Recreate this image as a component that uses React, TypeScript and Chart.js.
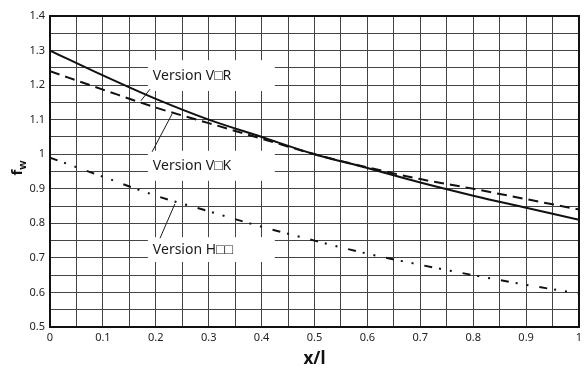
import React, { useEffect, useRef } from "react";
import { Chart, registerables } from "chart.js";

Chart.register(...registerables);

const xValues = [0, 0.1, 0.2, 0.3, 0.4, 0.5, 0.6, 0.7, 0.8, 0.9, 1.0];
const versionVR = [1.3, 1.228, 1.16, 1.1, 1.05, 1.0, 0.96, 0.918, 0.88, 0.845, 0.81];
const versionVK = [1.24, 1.187, 1.135, 1.09, 1.045, 1.0, 0.962, 0.928, 0.9, 0.87, 0.84];
const versionH = [0.99, 0.935, 0.88, 0.835, 0.79, 0.75, 0.712, 0.68, 0.65, 0.622, 0.597];

const seriesNames = ["Version V\u25A1R", "Version V\u25A1K", "Version H\u25A1\u25A1"];
const xTitle = "x/l";
const yTitleMain = "f";
const yTitleSub = "w";

const FONT = "'Noto Sans', 'Open Sans', sans-serif";

// label annotations in data coordinates
const labelDefs = [
  { text: seriesNames[0], x0: 0.185, x1: 0.425, yTop: 1.272, yBot: 1.183, yText: 1.226, lead: [0.189, 1.188, 0.172, 1.155] },
  { text: seriesNames[1], x0: 0.185, x1: 0.425, yTop: 1.01, yBot: 0.923, yText: 0.966, lead: [0.193, 1.007, 0.231, 1.117] },
  { text: seriesNames[2], x0: 0.185, x1: 0.425, yTop: 0.76, yBot: 0.688, yText: 0.724, lead: [0.208, 0.757, 0.236, 0.856] },
];

const toPts = (ys: number[]) => xValues.map((x, i) => ({ x, y: ys[i] }));

const fmt = (v: number) => {
  const r = Math.round(v * 100);
  if (r % 10 !== 0) return "";
  return String(r / 100);
};

const overlayPlugin = {
  id: "overlay",
  afterDatasetsDraw(chart: any) {
    const { ctx, chartArea, scales } = chart;
    const xs = scales.x;
    const ys = scales.y;
    ctx.save();
    labelDefs.forEach((d) => {
      const l = xs.getPixelForValue(d.x0);
      const r = xs.getPixelForValue(d.x1);
      const t = ys.getPixelForValue(d.yTop);
      const b = ys.getPixelForValue(d.yBot);
      ctx.fillStyle = "#ffffff";
      ctx.fillRect(l, t, r - l, b - t);
      ctx.fillStyle = "#1a1a1a";
      ctx.font = `14px ${FONT}`;
      ctx.textAlign = "left";
      ctx.textBaseline = "middle";
      ctx.fillText(d.text, l + 5, ys.getPixelForValue(d.yText));
      ctx.strokeStyle = "#1a1a1a";
      ctx.lineWidth = 1;
      ctx.beginPath();
      ctx.moveTo(xs.getPixelForValue(d.lead[0]), ys.getPixelForValue(d.lead[1]));
      ctx.lineTo(xs.getPixelForValue(d.lead[2]), ys.getPixelForValue(d.lead[3]));
      ctx.stroke();
    });
    ctx.strokeStyle = "#111";
    ctx.lineWidth = 2;
    ctx.strokeRect(chartArea.left, chartArea.top, chartArea.right - chartArea.left, chartArea.bottom - chartArea.top);
    ctx.fillStyle = "#111";
    ctx.font = `bold 17px ${FONT}`;
    ctx.textAlign = "center";
    ctx.textBaseline = "middle";
    ctx.fillText(xTitle, (chartArea.left + chartArea.right) / 2, 359);
    ctx.translate(17, 168);
    ctx.rotate(-Math.PI / 2);
    ctx.textAlign = "left";
    ctx.textBaseline = "alphabetic";
    ctx.font = `bold 11px ${FONT}`;
    const subW = ctx.measureText(yTitleSub).width;
    ctx.font = `bold 15px ${FONT}`;
    const fw = ctx.measureText(yTitleMain).width;
    const total = fw + subW;
    ctx.fillText(yTitleMain, -total / 2, 5);
    ctx.font = `bold 11px ${FONT}`;
    ctx.fillText(yTitleSub, -total / 2 + fw, 9);
    ctx.restore();
  },
};

export default function App() {
  const ref = useRef<HTMLCanvasElement | null>(null);
  useEffect(() => {
    document.body.style.margin = "0";
    const canvas = ref.current;
    if (!canvas) return;
    const chart = new Chart(canvas, {
      type: "line",
      data: {
        datasets: [
          {
            label: seriesNames[0],
            data: toPts(versionVR),
            borderColor: "#111",
            borderWidth: 2,
            pointRadius: 0,
            cubicInterpolationMode: "monotone",
          },
          {
            label: seriesNames[1],
            data: toPts(versionVK),
            borderColor: "#111",
            borderWidth: 2,
            borderDash: [10, 6],
            pointRadius: 0,
            cubicInterpolationMode: "monotone",
          },
          {
            label: seriesNames[2],
            data: toPts(versionH),
            borderColor: "#111",
            borderWidth: 2,
            borderDash: [8, 7, 2, 9, 2, 11],
            pointRadius: 0,
            cubicInterpolationMode: "monotone",
          },
        ] as any,
      },
      options: {
        animation: false,
        responsive: false,
        maintainAspectRatio: false,
        layout: { padding: { left: 0, top: 16, right: 9, bottom: 0 } },
        plugins: { legend: { display: false }, tooltip: { enabled: false } },
        scales: {
          x: {
            type: "linear",
            min: 0,
            max: 1,
            ticks: {
              stepSize: 0.05,
              maxTicksLimit: 100,
              autoSkip: false,
              maxRotation: 0,
              callback: (v: any) => fmt(Number(v)),
              font: { size: 11, family: FONT },
              color: "#222",
              padding: 4,
            },
            grid: { color: "#444", lineWidth: 1, drawTicks: false },
            border: { display: true, color: "#111", width: 2 },
            afterFit: (s: any) => {
              s.height = 42;
            },
          },
          y: {
            type: "linear",
            min: 0.5,
            max: 1.4,
            ticks: {
              stepSize: 0.05,
              maxTicksLimit: 100,
              autoSkip: false,
              callback: (v: any) => fmt(Number(v)),
              font: { size: 11, family: FONT },
              color: "#222",
              padding: 5,
            },
            grid: { color: "#444", lineWidth: 1, drawTicks: false },
            border: { display: true, color: "#111", width: 2 },
            afterFit: (s: any) => {
              s.width = 50;
            },
          },
        },
      } as any,
      plugins: [overlayPlugin],
    });
    return () => chart.destroy();
  }, []);
  return (
    <div style={{ width: 588, height: 369 }}>
      <canvas ref={ref} width={588} height={369} style={{ width: 588, height: 369 }} />
    </div>
  );
}
